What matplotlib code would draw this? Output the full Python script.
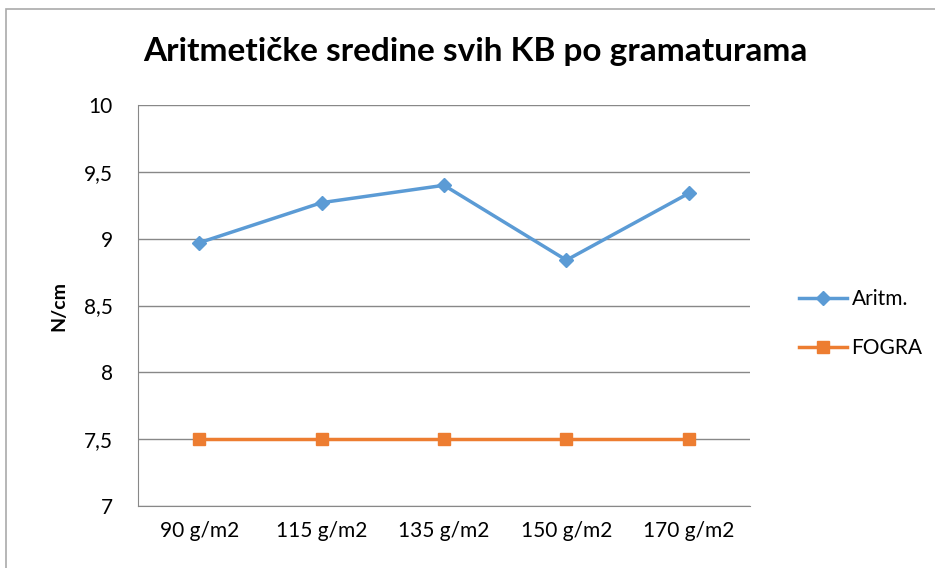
import matplotlib.pyplot as plt
from matplotlib.patches import Rectangle

plt.rcParams['font.family'] = ['Lato', 'DejaVu Sans']

categories = ['90 g/m2', '115 g/m2', '135 g/m2', '150 g/m2', '170 g/m2']
aritm = [8.97, 9.27, 9.40, 8.84, 9.34]
fogra = [7.5, 7.5, 7.5, 7.5, 7.5]
yticks = [7, 7.5, 8, 8.5, 9, 9.5, 10]
ylabels = ['7', '7,5', '8', '8,5', '9', '9,5', '10']

fig = plt.figure(figsize=(9.35, 5.68), dpi=100)
ax = fig.add_axes([0.1476, 0.109, 0.6545, 0.706])

x = range(len(categories))
ax.plot(x, aritm, color='#5b9bd5', lw=2.5, marker='D', ms=7, label='Aritm.')
ax.plot(x, fogra, color='#ed7d31', lw=2.5, marker='s', ms=8, label='FOGRA')

ax.set_xlim(-0.5, 4.5)
ax.set_ylim(7, 10)
ax.set_yticks(yticks)
ax.set_yticklabels(ylabels, fontsize=15)
ax.set_xticks(list(x))
ax.set_xticklabels(categories, fontsize=15)
ax.tick_params(axis='x', length=0, pad=11)
ax.tick_params(axis='y', length=0, pad=18)
ax.grid(axis='y', color='#888888', lw=1)
ax.set_axisbelow(True)
for s in ['top', 'right']:
    ax.spines[s].set_visible(False)
ax.spines['left'].set_color('#888888')
ax.spines['bottom'].set_color('#888888')
ax.set_ylabel('N/cm', fontsize=14, fontweight='bold', labelpad=12)

fig.text(0.508, 0.91, 'Aritmetičke sredine svih KB po gramaturama',
         ha='center', va='center', fontsize=24, fontweight='bold')

fig.legend(loc='center left', bbox_to_anchor=(0.835, 0.43), frameon=False,
           fontsize=15, handlelength=2.3, labelspacing=1.4, handletextpad=0.2)

fig.patches.append(Rectangle((0.006, -0.02), 1.1, 1.005, transform=fig.transFigure,
                             fill=False, edgecolor='#aaaaaa', lw=1.2))

fig.savefig('out.png', dpi=100)
